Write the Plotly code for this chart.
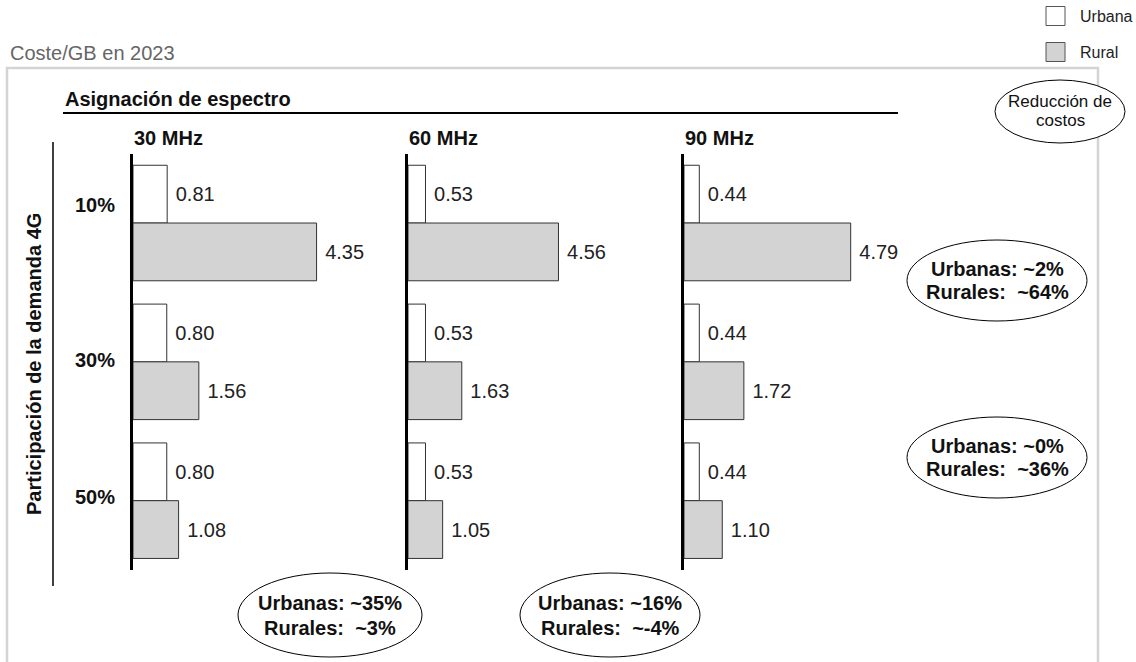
import plotly.graph_objects as go

# ---------------- data ----------------
categories = ["10%", "30%", "50%"]          # participación de la demanda 4G
bands = ["30 MHz", "60 MHz", "90 MHz"]      # asignación de espectro
urbana_30 = [0.81, 0.80, 0.80]
rural_30 = [4.35, 1.56, 1.08]
urbana_60 = [0.53, 0.53, 0.53]
rural_60 = [4.56, 1.63, 1.05]
urbana_90 = [0.44, 0.44, 0.44]
rural_90 = [4.79, 1.72, 1.10]
series_names = ["Urbana", "Rural"]
row_notes = [["Urbanas: ~2%", "Rurales:\u00a0 ~64%"], ["Urbanas: ~0%", "Rurales:\u00a0 ~36%"]]
col_notes = [["Urbanas: ~35%", "Rurales:\u00a0 ~3%"], ["Urbanas: ~16%", "Rurales:\u00a0 ~-4%"]]
reduccion_label = ["Reducción de", "costos"]

urbana = [urbana_30, urbana_60, urbana_90]
rural = [rural_30, rural_60, rural_90]

# ---------------- layout helpers ----------------
W, H = 1136, 662
FONT = "Liberation Sans, Arial, Helvetica, sans-serif"


def px(x):
    return x / W


def py(y):
    return 1 - y / H


# panel geometry (pixel left edge, right edge, pixels per unit)
panels = [(133, 400, 42.2), (408, 670, 33.0), (684, 900, 34.8)]
y_top, y_bot = 153.6, 570.1

fig = go.Figure()
URB_FILL, RUR_FILL, EDGE = "#ffffff", "#d3d3d3", "#333333"
shapes = []
annotations = []


def label(x, y, text, size, color="#111111", xanchor="left", angle=0):
    annotations.append(dict(x=px(x), y=py(y), xref="paper", yref="paper", text=text, showarrow=False,
                            xanchor=xanchor, yanchor="middle", textangle=angle,
                            font=dict(size=size, color=color, family=FONT)))


for i, (x0, x1, s) in enumerate(panels):
    n = "" if i == 0 else str(i + 1)
    for vals, name, fill in [(urbana[i], series_names[0], URB_FILL), (rural[i], series_names[1], RUR_FILL)]:
        fig.add_trace(go.Bar(
            y=categories, x=vals, orientation="h", name=name,
            xaxis="x" + n, yaxis="y" + n, showlegend=False,
            marker=dict(color=fill, line=dict(color=EDGE, width=1)),
            texttemplate="\u00a0%{x:.2f}", textposition="outside", cliponaxis=False,
            constraintext="none",
            textfont=dict(size=20, color="#222222", family=FONT),
        ))
    fig.layout["xaxis" + n] = dict(
        domain=[px(x0), px(x1)], range=[0, (x1 - x0) / s], anchor="y" + n,
        visible=False, fixedrange=True,
    )
    ydict = dict(
        domain=[py(y_bot), py(y_top)], anchor="x" + n, type="category",
        categoryorder="array", categoryarray=categories, autorange="reversed",
        showline=True, linewidth=3, linecolor="black", showticklabels=False,
        showgrid=False, zeroline=False, ticks="",
    )
    if i > 0:
        ydict["matches"] = "y"
    fig.layout["yaxis" + n] = ydict
    label(x0 - 1, 138, "<b>%s</b>" % bands[i], 20)

# light grey frame
shapes.append(dict(type="rect", xref="paper", yref="paper", x0=px(7), x1=px(1098), y0=py(680), y1=py(68),
                   line=dict(color="#d4d4d4", width=2.5), fillcolor="rgba(0,0,0,0)", layer="below"))
# underline of header
shapes.append(dict(type="line", xref="paper", yref="paper", x0=px(63), x1=px(898), y0=py(113), y1=py(113),
                   line=dict(color="black", width=2)))
# left vertical line
shapes.append(dict(type="line", xref="paper", yref="paper", x0=px(53), x1=px(53), y0=py(142), y1=py(586),
                   line=dict(color="black", width=1.5)))

# legend boxes
for name, fill, yc in [(series_names[0], URB_FILL, 16), (series_names[1], RUR_FILL, 52)]:
    shapes.append(dict(type="rect", xref="paper", yref="paper", x0=px(1046), x1=px(1065),
                       y0=py(yc + 9.5), y1=py(yc - 9.5), fillcolor=fill, line=dict(color="#555555", width=1)))
    label(1078, yc, name, 16, "#222222")

# ellipses
ellipses = [
    (995, 1125, 80, 143, reduccion_label, False, 17, 19),
    (907, 1087, 240, 321, row_notes[0], True, 20, 23),
    (907, 1087, 417, 498, row_notes[1], True, 20, 23),
    (238, 422, 573, 657, col_notes[0], True, 20, 25),
    (520, 700, 573, 657, col_notes[1], True, 20, 25),
]
for ex0, ex1, ey0, ey1, lines, bold, fs, gap in ellipses:
    shapes.append(dict(type="circle", xref="paper", yref="paper", x0=px(ex0), x1=px(ex1), y0=py(ey1), y1=py(ey0),
                       fillcolor="white", line=dict(color="black", width=1)))
    cx, cy = (ex0 + ex1) / 2, (ey0 + ey1) / 2
    for k, t in enumerate(lines):
        label(cx, cy + (k - 0.5) * gap, ("<b>%s</b>" % t) if bold else t, fs, "#111111", "center")

# titles & row labels
label(8, 53, "Coste/GB en 2023", 20, "#666666")
label(63, 99, "<b>Asignación de espectro</b>", 20)
label(34, 364, "<b>Participación de la demanda 4G</b>", 20, xanchor="center", angle=-90)
for cat, yc in zip(categories, [205, 360, 497]):
    label(73, yc, "<b>%s</b>" % cat, 20)

fig.update_layout(
    width=W, height=H, margin=dict(l=0, r=0, t=0, b=0),
    paper_bgcolor="white", plot_bgcolor="rgba(0,0,0,0)",
    barmode="group", bargap=0.168, bargroupgap=0,
    shapes=shapes, annotations=annotations,
    font=dict(family=FONT), showlegend=False,
)

fig.write_html("out.html", config={"displayModeBar": False},
               post_script="document.body.style.margin='0';document.body.style.overflow='hidden';")
